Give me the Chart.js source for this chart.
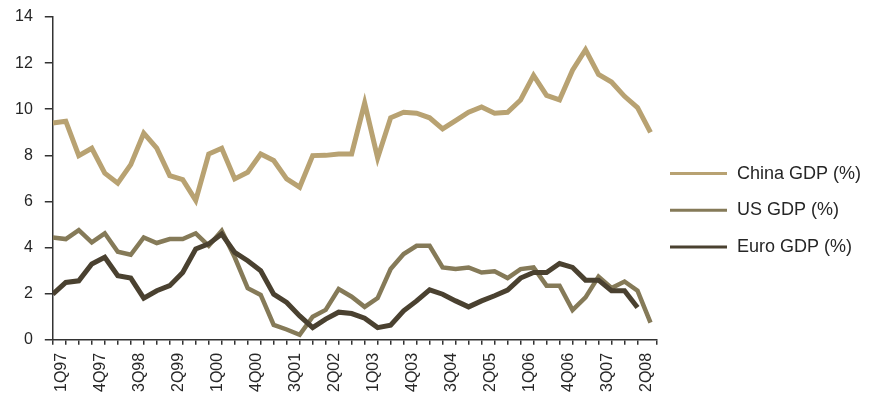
<!DOCTYPE html>
<html>
<head>
<meta charset="utf-8">
<script src="https://cdn.jsdelivr.net/npm/chart.js@4.4.1/dist/chart.umd.min.js"></script>
<style>
  html, body { margin: 0; padding: 0; background: #ffffff; }
  #wrap { width: 870px; height: 397px; position: relative; }
</style>
</head>
<body>
<div id="wrap"><canvas id="gdp"></canvas></div>
<script>
// Quarterly year-on-year GDP growth, 1Q97 - 3Q08
const quarters = [
  '1Q97','2Q97','3Q97','4Q97','1Q98','2Q98','3Q98','4Q98',
  '1Q99','2Q99','3Q99','4Q99','1Q00','2Q00','3Q00','4Q00',
  '1Q01','2Q01','3Q01','4Q01','1Q02','2Q02','3Q02','4Q02',
  '1Q03','2Q03','3Q03','4Q03','1Q04','2Q04','3Q04','4Q04',
  '1Q05','2Q05','3Q05','4Q05','1Q06','2Q06','3Q06','4Q06',
  '1Q07','2Q07','3Q07','4Q07','1Q08','2Q08','3Q08'
];

const chinaGdp = [
  9.40, 9.48, 7.99, 8.31, 7.23, 6.79, 7.60, 8.96,
  8.31, 7.12, 6.95, 6.05, 8.06, 8.31, 6.98, 7.27,
  8.06, 7.78, 6.98, 6.62, 7.99, 8.00, 8.06, 8.06,
  10.27, 7.89, 9.63, 9.87, 9.83, 9.63, 9.15, 9.51,
  9.87, 10.10, 9.83, 9.87, 10.40, 11.47, 10.60, 10.41,
  11.69, 12.58, 11.51, 11.18, 10.56, 10.07, 9.00
];

const usGdp = [
  4.44, 4.37, 4.76, 4.23, 4.62, 3.82, 3.69, 4.44,
  4.20, 4.37, 4.37, 4.62, 4.08, 4.73, 3.58, 2.24,
  1.95, 0.65, 0.45, 0.22, 1.00, 1.30, 2.20, 1.87,
  1.43, 1.81, 3.07, 3.72, 4.08, 4.08, 3.14, 3.07,
  3.14, 2.92, 2.97, 2.68, 3.07, 3.14, 2.35, 2.35,
  1.29, 1.84, 2.74, 2.25, 2.53, 2.13, 0.75
];

const euroGdp = [
  1.98, 2.49, 2.56, 3.29, 3.58, 2.78, 2.68, 1.81,
  2.13, 2.35, 2.92, 3.94, 4.16, 4.59, 3.79, 3.43,
  3.00, 1.98, 1.62, 1.04, 0.53, 0.90, 1.20, 1.14,
  0.94, 0.53, 0.64, 1.26, 1.69, 2.17, 1.98, 1.69,
  1.43, 1.69, 1.91, 2.16, 2.68, 2.92, 2.92, 3.31,
  3.14, 2.59, 2.59, 2.13, 2.13, 1.40
];

const seriesNames = ['China GDP (%)', 'US GDP (%)', 'Euro GDP (%)'];
const seriesColors = ['#B8A272', '#857A58', '#4A4130'];

const FONT = '"Liberation Sans", Arial, Helvetica, sans-serif';
const INK = '#262626';
const AXIS = '#333333';

const toPoints = values => values.map((v, i) => ({ x: i, y: v }));

// Legend drawn to the right of the plot: a short line sample followed by the series name
const lineLegend = {
  id: 'lineLegend',
  afterDraw(chart, args, opts) {
    const { ctx, chartArea } = chart;
    ctx.save();
    ctx.font = opts.font;
    ctx.textBaseline = 'middle';
    ctx.textAlign = 'left';
    chart.data.datasets.forEach((ds, i) => {
      const y = chartArea.top + opts.top + i * opts.rowGap;
      const x = chartArea.right + opts.gap;
      ctx.strokeStyle = ds.borderColor;
      ctx.lineWidth = opts.lineWidth;
      ctx.lineCap = 'butt';
      ctx.beginPath();
      ctx.moveTo(x, y);
      ctx.lineTo(x + opts.lineLength, y);
      ctx.stroke();
      ctx.fillStyle = opts.color;
      ctx.fillText(ds.label, x + opts.lineLength + opts.textGap, y);
    });
    ctx.restore();
  }
};

new Chart(document.getElementById('gdp'), {
  type: 'line',
  data: {
    datasets: [
      { label: seriesNames[0], data: toPoints(chinaGdp), borderColor: seriesColors[0], borderWidth: 5, order: 3 },
      { label: seriesNames[1], data: toPoints(usGdp), borderColor: seriesColors[1], borderWidth: 4.5, order: 2 },
      { label: seriesNames[2], data: toPoints(euroGdp), borderColor: seriesColors[2], borderWidth: 5, order: 1 }
    ]
  },
  options: {
    responsive: true,
    maintainAspectRatio: false,
    animation: false,
    devicePixelRatio: 1,
    layout: { padding: { left: 3, right: 213, top: 17, bottom: -3 } },
    elements: {
      line: { tension: 0, fill: false, borderJoinStyle: 'miter' },
      point: { radius: 0, hoverRadius: 0 }
    },
    plugins: {
      legend: { display: false },
      tooltip: { enabled: false },
      lineLegend: {
        top: 156.6, rowGap: 36.7, gap: 13, lineLength: 57, textGap: 10,
        lineWidth: 3, font: '18px ' + FONT, color: INK
      }
    },
    scales: {
      x: {
        type: 'linear',
        min: 0,
        max: quarters.length - 0.5,
        border: { color: AXIS, width: 1.5 },
        grid: { drawOnChartArea: false, drawTicks: true, tickLength: 5, color: AXIS, lineWidth: 1.5 },
        ticks: {
          stepSize: 1,
          autoSkip: false,
          minRotation: 90,
          maxRotation: 90,
          labelOffset: 9,
          padding: 8,
          color: INK,
          font: { family: FONT, size: 16 },
          callback: v => (Number.isInteger(v) && v % 3 === 0) ? quarters[v] : ''
        }
      },
      y: {
        min: 0,
        max: 14,
        border: { color: AXIS, width: 1.5 },
        grid: { drawOnChartArea: false, drawTicks: true, tickLength: 8, color: AXIS, lineWidth: 1.5 },
        ticks: {
          stepSize: 2,
          padding: 12,
          color: INK,
          font: { family: FONT, size: 16 }
        },
        // the top label may sit in the page margin; the plot top is set by the layout padding
        afterFit: scale => { scale.paddingTop = 0; }
      }
    }
  },
  plugins: [lineLegend]
});
</script>
</body>
</html>
